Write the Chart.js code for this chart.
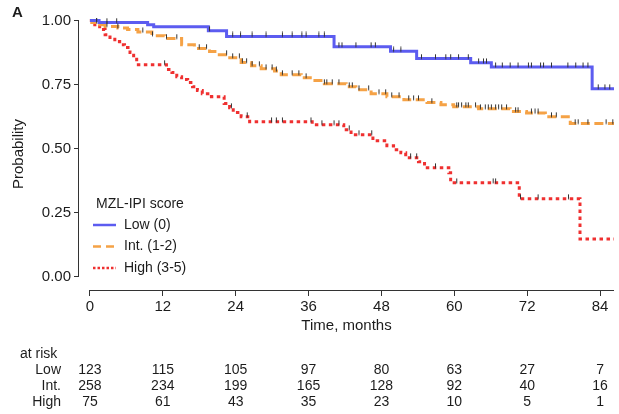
<!DOCTYPE html>
<html>
<head>
<meta charset="utf-8">
<script src="https://cdn.jsdelivr.net/npm/chart.js@4.4.1/dist/chart.umd.min.js"></script>
<style>
  body { margin: 0; background: #fff; }
  #wrap { width: 619px; height: 414px; }
</style>
</head>
<body>
<div id="wrap"><canvas id="chart" width="619" height="414"></canvas></div>
<script>
// Kaplan-Meier steps (months, survival probability)
const lowTimes = [0, 1.5, 9.5, 10.5, 19.5, 22.5, 40.2, 49.5, 53.8, 62.7, 66.1, 82.7, 86.4];
const lowSurv = [1, 0.992, 0.984, 0.976, 0.96, 0.938, 0.898, 0.88, 0.852, 0.835, 0.819, 0.734, 0.734];

const intTimes = [0, 0.3, 1.6, 2.5, 4.6, 6.2, 7.9, 10.2, 12.3, 15.1, 17.2, 19.7, 21.3, 22.6, 24.9, 26.6, 28.2, 30.4, 31.5, 34.8,
  36.6, 38.6, 42.2, 43.8, 46.3, 48.9, 51.7, 55.5, 57.8, 59.9, 64, 69.2, 71.9, 75, 79.1, 86.4];
const intSurv = [1, 0.992, 0.984, 0.977, 0.971, 0.965, 0.955, 0.941, 0.93, 0.906, 0.891, 0.879, 0.867, 0.855, 0.836, 0.824, 0.812, 0.803, 0.789, 0.777,
  0.766, 0.754, 0.742, 0.73, 0.715, 0.703, 0.691, 0.68, 0.672, 0.664, 0.656, 0.645, 0.639, 0.625, 0.598, 0.598];

const highTimes = [0, 0.8, 1.6, 2.5, 3.3, 4.1, 4.9, 5.7, 6.6, 7.2, 7.7, 12.6, 13.5, 14.3, 15.1, 16.1, 16.9, 17.7, 18.5, 20,
  22.1, 23, 23.6, 24.9, 26.3, 36.6, 41.8, 43, 46.6, 48.9, 50, 51.2, 52, 54.1, 55.1, 59.1, 59.4, 70.7, 80.7, 86.4];
const highSurv = [1, 0.984, 0.965, 0.945, 0.934, 0.918, 0.906, 0.895, 0.875, 0.855, 0.828, 0.809, 0.797, 0.781, 0.77, 0.758, 0.742, 0.727, 0.715, 0.703,
  0.676, 0.66, 0.641, 0.625, 0.605, 0.594, 0.574, 0.555, 0.531, 0.512, 0.496, 0.484, 0.465, 0.449, 0.426, 0.406, 0.367, 0.305, 0.148, 0.148];

// censoring marks (months)
const lowCensor = [1.1, 2.8, 4.4, 19.7, 23.5, 24.8, 26.7, 29, 31.7, 33.3, 34.9, 35.6, 37.7, 38.6, 41, 41.5, 43.8, 46.3, 47, 50,
  51.2, 54.6, 56.9, 58.6, 59.4, 60.7, 62.3, 64, 64.8, 65.3, 66.8, 67.9, 69.2, 70.5, 72.2, 72.7, 74.2, 74.7, 76, 78.7,
  80, 81.2, 82, 83.7, 84.8, 85.6];
const intCensor = [1.1, 2.8, 4.6, 8.7, 10.3, 12.6, 14.3, 18.0, 19.2, 22.5, 23.5, 24.6, 25.1, 25.8, 26.7, 27.9, 29.0, 30.0, 30.7, 31.7,
  33.3, 34.4, 35.6, 38.6, 39.0, 39.9, 41.0, 42.7, 43.2, 44.3, 45.9, 47.6, 48.7, 49.7, 50.9, 52.5, 53.3, 54.1, 56.3, 60.4,
  60.7, 61.2, 61.9, 62.3, 63.5, 64.3, 65.1, 65.6, 66.1, 66.8, 67.3, 67.8, 68.6, 70.1, 70.5, 72.7, 73.3, 73.8, 76.0, 76.8,
  79.9, 80.4, 82.0, 85.0, 86.1];
const highCensor = [12.3, 23.3, 25.9, 29.9, 30.7, 31.7, 36.4, 38.2, 40.2, 41.0, 42.7, 44.3, 46.4, 52.8, 53.8, 56.9, 60.4, 66.4, 66.8, 70.9,
  73.8, 78.8];

// numbers at risk
const riskTimes = [0, 12, 24, 36, 48, 60, 72, 84];
const riskLow = [123, 115, 105, 97, 80, 63, 27, 7];
const riskInt = [258, 234, 199, 165, 128, 92, 40, 16];
const riskHigh = [75, 61, 43, 35, 23, 10, 5, 1];

const yTicks = [0, 0.25, 0.5, 0.75, 1];

const groups = ['Low (0)', 'Int. (1-2)', 'High (3-5)'];
const riskLabels = ['Low', 'Int.', 'High'];
const colors = ['#5c5cf0', '#f5a246', '#ef3030'];
const dashes = [[], [9, 4.5], [3.5, 3.5]];
const legendDashes = [[], [8, 5], [2.5, 2]];

const FONT = '"Liberation Sans", Arial, sans-serif';
const TEXT = '#1c1c1c';

// little tick that sits on top of the curve, like R's censor mark
const tick = document.createElement('canvas');
tick.width = 3;
tick.height = 10;
(function () {
  const c = tick.getContext('2d');
  c.strokeStyle = '#333';
  c.lineWidth = 1;
  c.beginPath();
  c.moveTo(1.5, 0.5);
  c.lineTo(1.5, 5.5);
  c.stroke();
})();

function toPoints(times, surv) {
  return times.map((t, i) => ({ x: t, y: surv[i] }));
}

// survival value the curve has at time t (marks sit on the curve)
function valueAt(times, surv, t) {
  let v = surv[0];
  for (let i = 0; i < times.length; i++) {
    if (times[i] <= t) v = surv[i];
  }
  return v;
}

function censorPoints(list, times, surv) {
  return list.map(t => ({ x: t, y: valueAt(times, surv, t) }));
}

function curve(label, times, surv, i) {
  return {
    label: label,
    data: toPoints(times, surv),
    stepped: 'before',
    borderColor: colors[i],
    borderWidth: 3,
    borderDash: dashes[i],
    borderCapStyle: 'butt',
    pointRadius: 0,
    fill: false,
    order: 2
  };
}

function marks(list, times, surv) {
  return {
    label: 'censored',
    data: censorPoints(list, times, surv),
    showLine: false,
    pointStyle: tick,
    pointRadius: 4,
    order: 1
  };
}

const rStyle = {
  id: 'rStyle',
  afterDraw(chart) {
    const { ctx, chartArea, scales: { x, y } } = chart;
    ctx.save();

    // R-like axis lines
    ctx.strokeStyle = '#333';
    ctx.lineWidth = 1;
    ctx.beginPath();
    ctx.moveTo(Math.round(chartArea.left) - 0.5, y.getPixelForValue(1));
    ctx.lineTo(Math.round(chartArea.left) - 0.5, y.getPixelForValue(0));
    ctx.moveTo(x.getPixelForValue(0), Math.round(chartArea.bottom) + 0.5);
    ctx.lineTo(chartArea.right, Math.round(chartArea.bottom) + 0.5);
    ctx.stroke();

    // panel letter
    ctx.fillStyle = TEXT;
    ctx.font = 'bold 15px ' + FONT;
    ctx.textAlign = 'left';
    ctx.textBaseline = 'middle';
    ctx.fillText('A', 12, 13);

    // legend
    const lx = chartArea.left + 14;
    ctx.font = '14px ' + FONT;
    ctx.fillText('MZL-IPI score', lx + 3, 204);
    groups.forEach((g, i) => {
      const ly = 225 + i * 21.5;
      ctx.beginPath();
      ctx.strokeStyle = colors[i];
      ctx.lineWidth = 2.5;
      ctx.setLineDash(legendDashes[i]);
      ctx.moveTo(lx, ly);
      ctx.lineTo(lx + 23, ly);
      ctx.stroke();
      ctx.setLineDash([]);
      ctx.fillStyle = TEXT;
      ctx.fillText(g, lx + 31, ly);
    });

    // at-risk table
    ctx.font = '14px ' + FONT;
    ctx.fillText('at risk', 20, 354);
    const rows = [riskLow, riskInt, riskHigh];
    rows.forEach((row, r) => {
      const ry = 370 + r * 16;
      ctx.textAlign = 'right';
      ctx.fillText(riskLabels[r], 61, ry);
      ctx.textAlign = 'center';
      row.forEach((n, k) => {
        ctx.fillText(String(n), x.getPixelForValue(riskTimes[k]), ry);
      });
    });
    ctx.restore();
  }
};

new Chart(document.getElementById('chart'), {
  type: 'line',
  data: {
    datasets: [
      marks(lowCensor, lowTimes, lowSurv),
      marks(intCensor, intTimes, intSurv),
      marks(highCensor, highTimes, highSurv),
      curve(groups[0], lowTimes, lowSurv, 0),
      curve(groups[1], intTimes, intSurv, 1),
      curve(groups[2], highTimes, highSurv, 2)
    ]
  },
  options: {
    responsive: false,
    animation: false,
    layout: { padding: { top: 18, right: 2, bottom: 76, left: 0 } },
    plugins: {
      legend: { display: false },
      tooltip: { enabled: false }
    },
    scales: {
      x: {
        type: 'linear',
        min: -1.8,
        max: 86.3,
        afterBuildTicks: s => { s.ticks = riskTimes.map(v => ({ value: v })); },
        afterFit: s => { s.height = 48; },
        border: { display: false },
        grid: { drawOnChartArea: false, drawTicks: true, tickLength: 6, color: '#333' },
        ticks: { color: TEXT, font: { family: FONT, size: 15 }, padding: 2, maxRotation: 0 },
        title: { display: true, text: 'Time, months', color: TEXT, font: { family: FONT, size: 15 }, padding: { top: 2, bottom: 3 } }
      },
      y: {
        min: -0.051,
        max: 1.01,
        afterBuildTicks: s => { s.ticks = yTicks.map(v => ({ value: v })); },
        afterFit: s => { s.width = 79; },
        border: { display: false },
        grid: { drawOnChartArea: false, drawTicks: true, tickLength: 5, color: '#333' },
        ticks: { color: TEXT, font: { family: FONT, size: 15 }, padding: 3, callback: v => v.toFixed(2) },
        title: { display: true, text: 'Probability', color: TEXT, font: { family: FONT, size: 15 }, padding: { top: 10, bottom: 0 } }
      }
    }
  },
  plugins: [rStyle]
});
</script>
</body>
</html>
